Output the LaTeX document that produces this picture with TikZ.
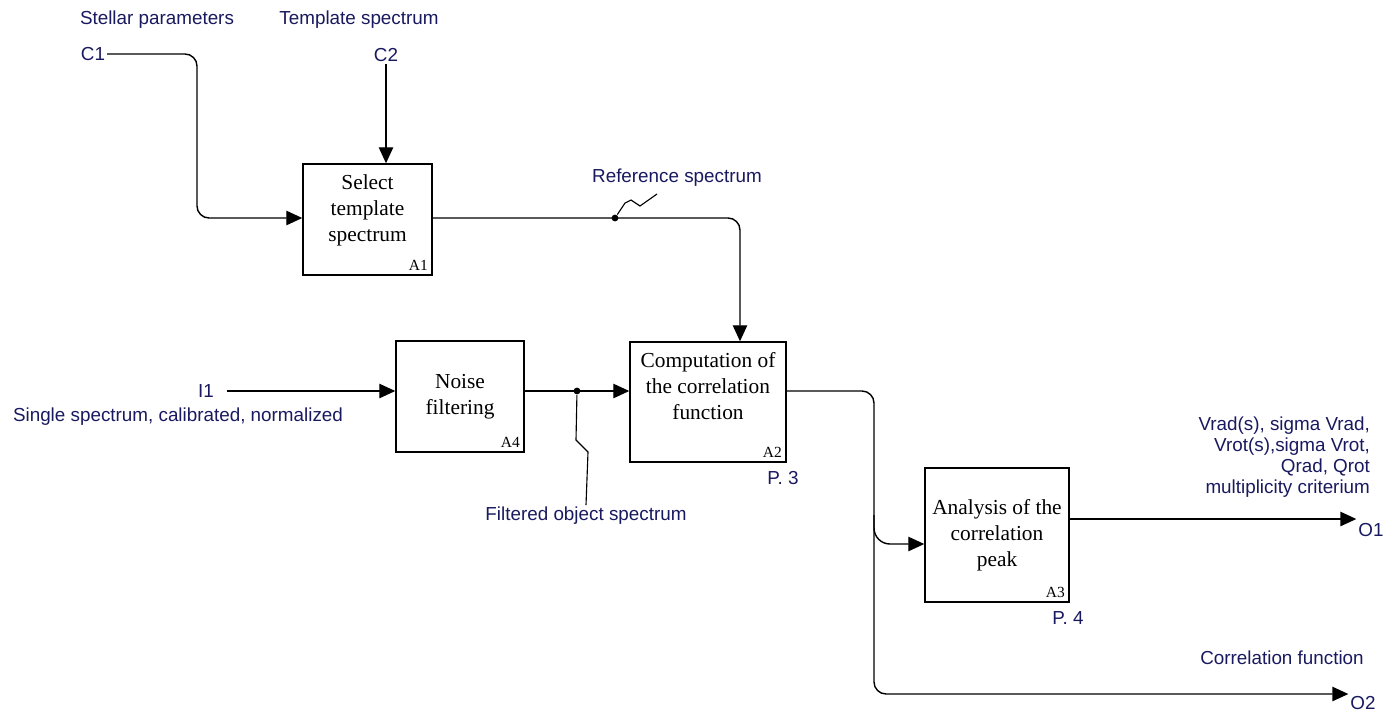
\documentclass[tikz,border=0pt]{standalone}
\usepackage{fontspec}
\setmainfont{Liberation Serif}
\newfontfamily\lblfont{Liberation Sans}
\usetikzlibrary{arrows.meta}
\definecolor{lblblue}{RGB}{25,25,95}
\begin{document}
\begin{tikzpicture}[x=0.025cm, y=-0.025cm, line width=1pt, >={Triangle[length=0.4cm,width=0.36cm]},
  act node/.style={draw, align=center, inner sep=0pt, font=\fontsize{15.2}{18.5}\selectfont},
  tag/.style={font=\fontsize{13.4}{15}\lblfont, text=lblblue, inner sep=1pt},
  num/.style={anchor=south east, font=\fontsize{11}{11}\selectfont, inner sep=3pt},
  jn/.style={circle, fill, inner sep=0pt, minimum size=0.17cm}]
\useasboundingbox (0,0) rectangle (1400,713);
% activities
\node [act node, minimum width=3.225cm, minimum height=2.775cm](a1) at (367.5,219.5) {Select\\template\\spectrum\\[-2pt]\mbox{}};
\node [act node, minimum width=3.2cm, minimum height=2.775cm](a4) at (460,396.5) {Noise\\filtering};
\node [act node, minimum width=3.9cm, minimum height=3cm](a2) at (708,402) {Computation of\\the correlation\\function\\[4pt]\mbox{}};
\node [act node, minimum width=3.6cm, minimum height=3.35cm](a3) at (997,535) {Analysis of the\\correlation\\peak};
\node [num](a1n) at (a1.south east) {A1};
\node [num](a4n) at (a4.south east) {A4};
\node [num](a2n) at (a2.south east) {A2};
\node [num](a3n) at (a3.south east) {A3};
\node [tag](p3) at (783,478) {P. 3};
\node [tag](p4) at (1068,618) {P. 4};
% rows of the arrows
\coordinate (r1) at (0,218);
\coordinate (r2) at (0,391);
\coordinate (r3) at (0,519);
\coordinate (r4) at (0,544);
\coordinate (r5) at (0,694);
% controls
\node [tag](c1) at (93,54) {C1};
\node [tag](c1t) at (157,20) {Stellar parameters};
\node [tag](c2) at (386,55) {C2};
\node [tag](c2t) at (359,20) {Template spectrum};
\draw [->, rounded corners=0.3cm] (c1.east) -| (197,218) -- (a1.west |- r1);
\draw [->] (c2.south) -- (c2.south |- a1.north);
% reference spectrum
\coordinate (k1) at (740,218);
\node [jn](d1) at (615,218) {};
\node [tag](reft) at (677,178) {Reference spectrum};
\draw [->, rounded corners=0.3cm] (a1.east |- r1) -- (k1) -- (k1 |- a2.north);
\draw [line width=0.8pt] (d1) -- (625,203) -- (631,200) -- (640,206) -- (657,194);
% input
\node [tag](i1) at (206,391) {I1};
\node [tag](i1t) at (178,417) {Single spectrum, calibrated, normalized};
\draw [->, shorten <=8pt] (i1.east |- r2) -- (a4.west |- r2);
\node [jn](d2) at (577,391) {};
\node [tag](filt) at (586,516) {Filtered object spectrum};
\draw [->] (a4.east |- r2) -- (a2.west |- r2);
\draw [line width=0.8pt] (d2) -- (576,440) -- (588,452) -- (filt.north);
% outputs
\node [tag](o1) at (1371,530) {O1};
\node [tag](o2) at (1363,703) {O2};
\node [tag, align=right, anchor=south east](o1t) at (1372,500) {Vrad(s), sigma Vrad,\hspace{4pt}\\Vrot(s),sigma Vrot,\hspace{4pt}\\Qrad, Qrot\\multiplicity criterium};
\node [tag](o2t) at (1282,658) {Correlation function};
\draw [->, rounded corners=0.3cm] (a2.east |- r2) -| (874,694) -- (o2.north west |- r5);
\draw [->, rounded corners=0.4cm] (874,515) |- (a3.west |- r4);
\draw [->] (a3.east |- r3) -- (o1.north west |- r3);
\end{tikzpicture}
\end{document}
